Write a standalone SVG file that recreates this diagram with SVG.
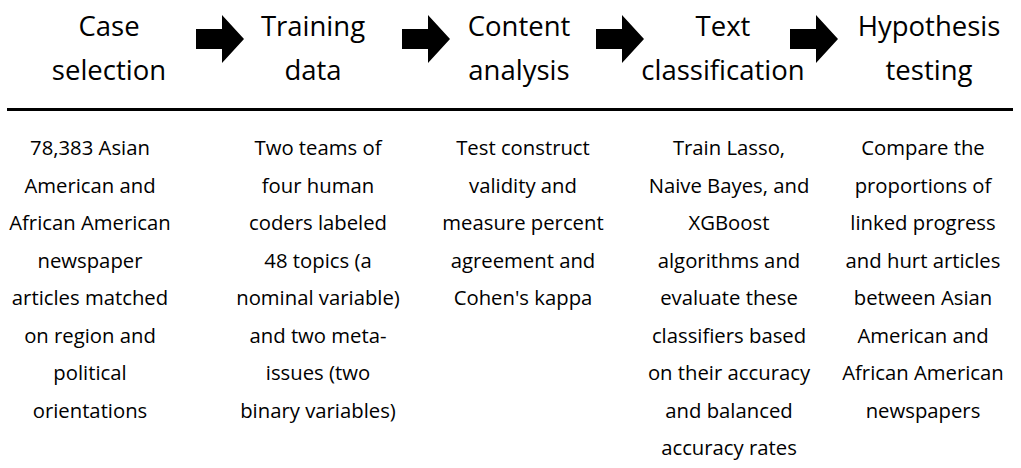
<svg xmlns="http://www.w3.org/2000/svg" width="1021" height="468" viewBox="0 0 1021 468">
  <style>
    .head { font-family: "Open Sans", "Noto Sans", sans-serif; font-size: 27.5px; fill: #000; text-anchor: middle; }
    .body { font-family: "Open Sans", "Noto Sans", sans-serif; font-size: 20.3px; fill: #000; text-anchor: middle; }
    .arrow { fill: #000; }
  </style>
  <defs>
    <!-- block arrow, origin at left end of the shaft -->
    <path id="blockArrow" class="arrow" d="M0,29 L26,29 L26,15 L48,39 L26,63 L26,49 L0,49 Z"/>
  </defs>
  <rect width="1021" height="468" fill="#fff"/>

  <g id="connectors">
    <use href="#blockArrow" x="196"/>
    <use href="#blockArrow" x="402"/>
    <use href="#blockArrow" x="596"/>
    <use href="#blockArrow" x="790"/>
    <line x1="7" y1="109.5" x2="1013" y2="109.5" stroke="#000" stroke-width="3"/>
  </g>

  <g id="case-selection">
    <text class="head" x="109" y="36">Case</text>
    <text class="head" x="109" y="80">selection</text>
    <text class="body" x="90" y="155">78,383 Asian</text>
    <text class="body" x="90" y="193">American and</text>
    <text class="body" x="90" y="230">African American</text>
    <text class="body" x="90" y="268">newspaper</text>
    <text class="body" x="90" y="305">articles matched</text>
    <text class="body" x="90" y="343">on region and</text>
    <text class="body" x="90" y="380">political</text>
    <text class="body" x="90" y="418">orientations</text>
  </g>

  <g id="training-data">
    <text class="head" x="313" y="36">Training</text>
    <text class="head" x="313" y="80">data</text>
    <text class="body" x="318" y="155">Two teams of</text>
    <text class="body" x="318" y="193">four human</text>
    <text class="body" x="318" y="230">coders labeled</text>
    <text class="body" x="318" y="268">48 topics (a</text>
    <text class="body" x="318" y="305">nominal variable)</text>
    <text class="body" x="318" y="343">and two meta-</text>
    <text class="body" x="318" y="380">issues (two</text>
    <text class="body" x="318" y="418">binary variables)</text>
  </g>

  <g id="content-analysis">
    <text class="head" x="519" y="36">Content</text>
    <text class="head" x="519" y="80">analysis</text>
    <text class="body" x="523" y="155">Test construct</text>
    <text class="body" x="523" y="193">validity and</text>
    <text class="body" x="523" y="230">measure percent</text>
    <text class="body" x="523" y="268">agreement and</text>
    <text class="body" x="523" y="305">Cohen's kappa</text>
  </g>

  <g id="text-classification">
    <text class="head" x="723" y="36">Text</text>
    <text class="head" x="723" y="80">classification</text>
    <text class="body" x="729" y="155">Train Lasso,</text>
    <text class="body" x="729" y="193">Naive Bayes, and</text>
    <text class="body" x="729" y="230">XGBoost</text>
    <text class="body" x="729" y="268">algorithms and</text>
    <text class="body" x="729" y="305">evaluate these</text>
    <text class="body" x="729" y="343">classifiers based</text>
    <text class="body" x="729" y="380">on their accuracy</text>
    <text class="body" x="729" y="418">and balanced</text>
    <text class="body" x="729" y="455">accuracy rates</text>
  </g>

  <g id="hypothesis-testing">
    <text class="head" x="929" y="36">Hypothesis</text>
    <text class="head" x="929" y="80">testing</text>
    <text class="body" x="923" y="155">Compare the</text>
    <text class="body" x="923" y="193">proportions of</text>
    <text class="body" x="923" y="230">linked progress</text>
    <text class="body" x="923" y="268">and hurt articles</text>
    <text class="body" x="923" y="305">between Asian</text>
    <text class="body" x="923" y="343">American and</text>
    <text class="body" x="923" y="380">African American</text>
    <text class="body" x="923" y="418">newspapers</text>
  </g>
</svg>
